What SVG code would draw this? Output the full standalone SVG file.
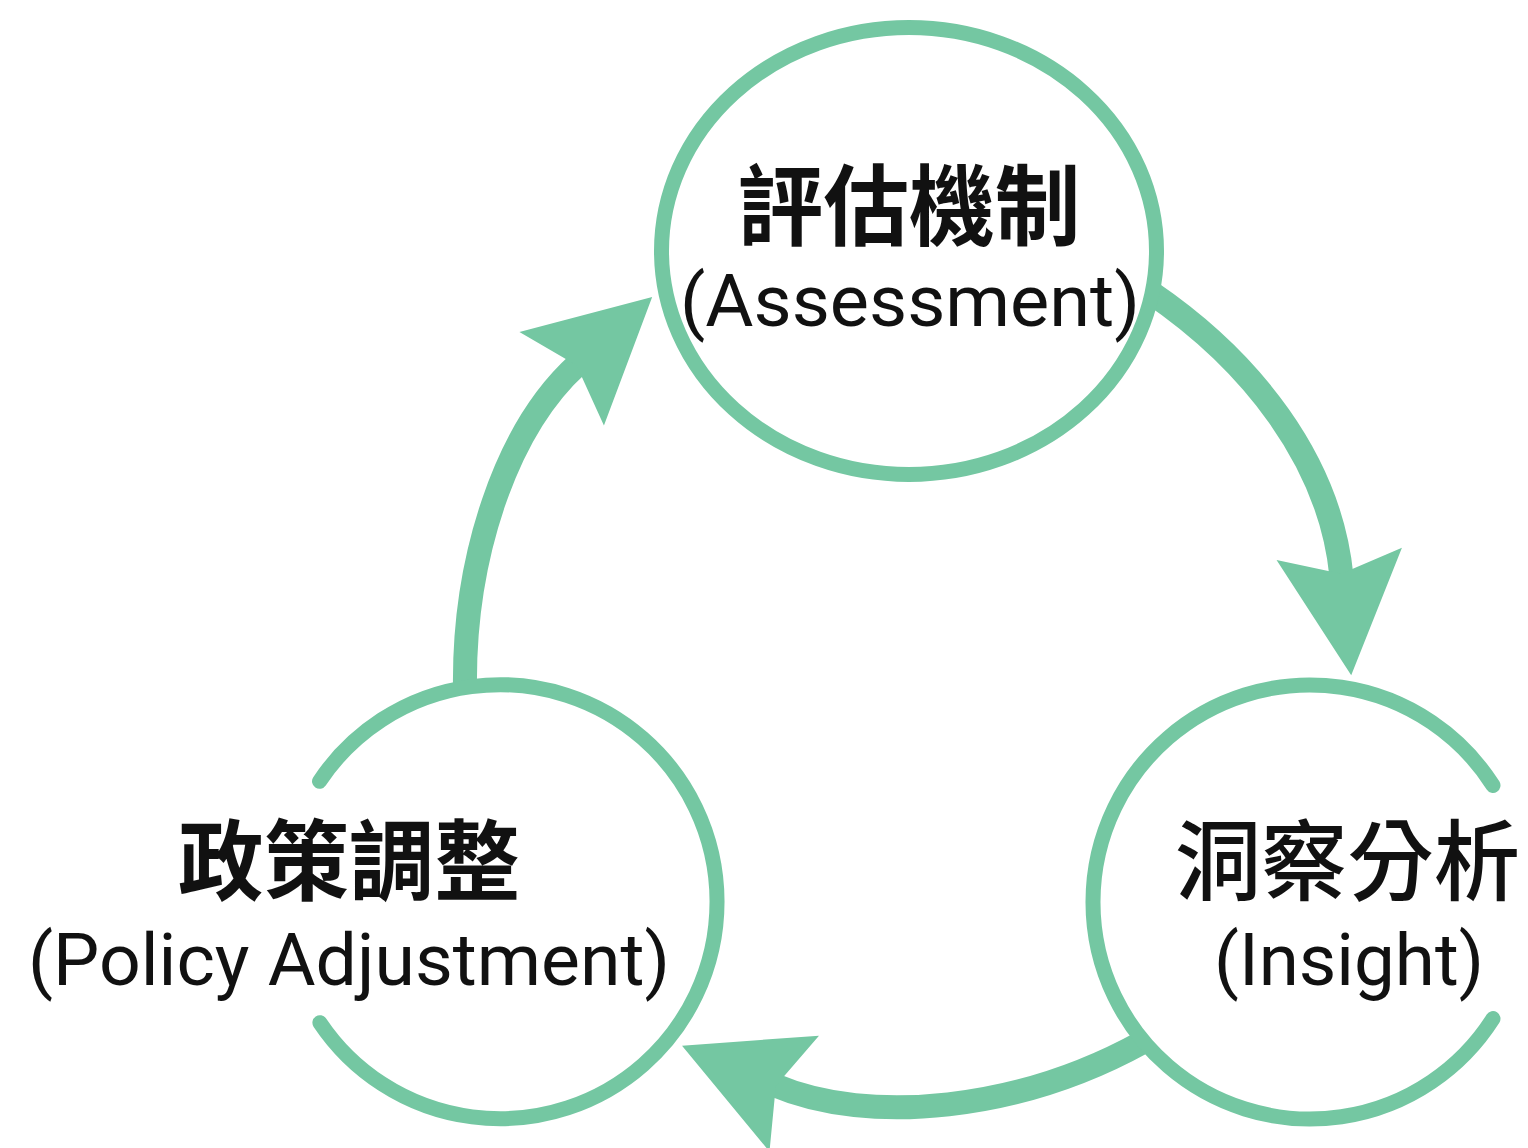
<svg xmlns="http://www.w3.org/2000/svg" width="1528" height="1148" viewBox="0 0 1528 1148">
  <style>
    .ring { fill: none; stroke: #74C7A2; stroke-width: 15; stroke-linecap: round; }
    .shaft { fill: none; stroke: #74C7A2; stroke-width: 24; }
    .head { fill: #74C7A2; }
    .zh { font-family: "Noto Sans CJK TC", "Noto Sans CJK SC", sans-serif; font-size: 88px; font-weight: 700; fill: #111; text-anchor: middle; }
    .en { font-family: Roboto, "Liberation Sans", sans-serif; font-size: 72px; font-weight: 400; fill: #111; text-anchor: middle; }
  </style>
  <defs>
    <marker id="ah" markerUnits="userSpaceOnUse" markerWidth="130" markerHeight="130" viewBox="-125 -65 130 130" refX="-100" refY="0" orient="auto" overflow="visible">
      <path class="head" d="M0,0 L-122,-63 L-102,0 L-122,63 Z"/>
    </marker>
  </defs>
  <rect width="1528" height="1148" fill="#FFFFFF"/>

  <g id="connectors">
    <path id="c-assessment-insight" class="shaft" d="M1150,292 C1250,360 1330,460 1341.4,575.7" marker-end="url(#ah)"/>
    <path id="c-insight-policy" class="shaft" d="M1143,1042 C1020,1110 870,1126 774,1085" marker-end="url(#ah)"/>
    <path id="c-policy-assessment" class="shaft" d="M465,690 C463,560 505,430 578,364" marker-end="url(#ah)"/>
  </g>

  <g id="node-assessment">
    <ellipse class="ring" cx="909" cy="251" rx="247.5" ry="223.5"/>
    <text class="zh" x="909" y="238" textLength="343" lengthAdjust="spacingAndGlyphs">評估機制</text>
    <text class="en" x="910" y="326" textLength="460" lengthAdjust="spacingAndGlyphs">(Assessment)</text>
  </g>

  <g id="node-insight">
    <path class="ring" d="M1493,785.4 A217,217 0 1 0 1493,1018.6"/>
    <text class="zh" x="1347.5" y="893" textLength="345" lengthAdjust="spacingAndGlyphs" style="font-weight:500">洞察分析</text>
    <text class="en" x="1349" y="985" textLength="270" lengthAdjust="spacingAndGlyphs">(Insight)</text>
  </g>

  <g id="node-policy">
    <path class="ring" d="M319.5,781.3 A217,217 0 1 1 319.9,1022.7"/>
    <text class="zh" x="349" y="893" textLength="342" lengthAdjust="spacingAndGlyphs">政策調整</text>
    <text class="en" x="349" y="985" textLength="642" lengthAdjust="spacingAndGlyphs">(Policy Adjustment)</text>
  </g>
</svg>
